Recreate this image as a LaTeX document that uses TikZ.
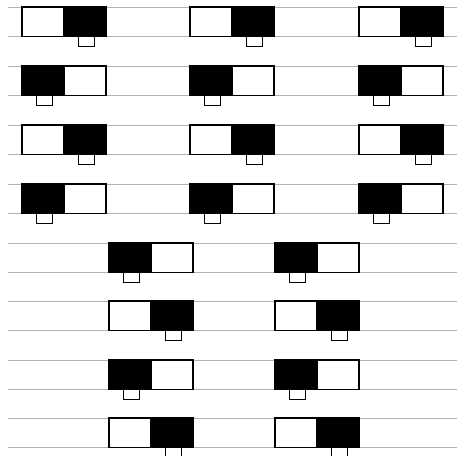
\documentclass[tikz,border=0pt]{standalone}
\begin{document}
\begin{tikzpicture}[x=1pt,y=-1pt,
  rule/.style={draw=black!30, line width=0.8pt},
  frame/.style={draw=black, line width=1.3pt},
  tabbox/.style={draw=black, line width=0.8pt, fill=white},
  wb/.pic={
    \fill[black] (42,0) rectangle (84,29.5);
    \draw[tabbox] (56,29.5) rectangle (72,39);
    \draw[frame] (0,0) rectangle (84,29.5);
    \draw[frame] (42,0) -- (42,29.5);
  },
  bw/.pic={
    \fill[black] (0,0) rectangle (42,29.5);
    \draw[tabbox] (14,29.5) rectangle (30,39);
    \draw[frame] (0,0) rectangle (84,29.5);
    \draw[frame] (42,0) -- (42,29.5);
  }]
\useasboundingbox (0,0) rectangle (459,456);
% ruled lines
\foreach \y in {7,66,125,184,243,301,360,418}{
  \draw[rule] (8,\y) -- (457,\y);
  \draw[rule] (8,\y+29.5) -- (457,\y+29.5);
}
% rows 1-4
\foreach \x in {22,190,359}{
  \pic at (\x,7) {wb};
  \pic at (\x,66) {bw};
  \pic at (\x,125) {wb};
  \pic at (\x,184) {bw};
}
% rows 5-8
\foreach \x in {109,275}{
  \pic at (\x,243) {bw};
  \pic at (\x,301) {wb};
  \pic at (\x,360) {bw};
  \pic at (\x,418) {wb};
}
\end{tikzpicture}
\end{document}
